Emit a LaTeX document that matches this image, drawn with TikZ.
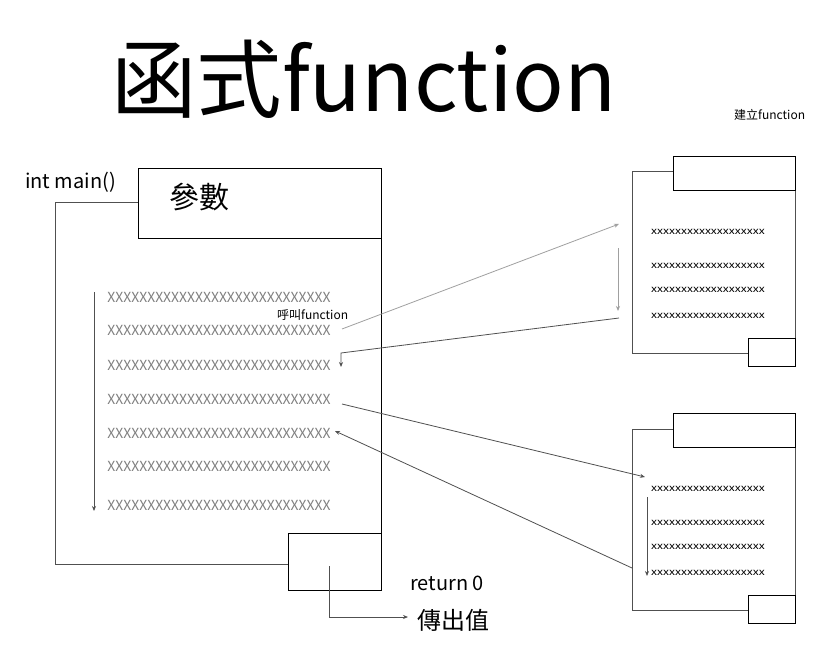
\documentclass[tikz,border=0pt]{standalone}
\usepackage{fontspec}
\setmainfont{Noto Sans CJK TC}
\usetikzlibrary{arrows.meta}
\definecolor{xgray}{HTML}{808080}
\definecolor{lgray}{HTML}{A0A0A0}
\definecolor{dgray}{HTML}{505050}
\tikzset{
  edge/.style={draw=black, line width=0.9pt},
  sedge/.style={draw=dgray, line width=1pt},
  bigx/.style={font=\fontsize{13.9}{13.9}\selectfont, text=xgray, inner sep=0pt},
  smallx/.style={font=\fontsize{9.6}{9.6}\selectfont, text=black, inner sep=0pt},
  lbl/.style={inner sep=0pt},
  tip/.style={-{Stealth[length=5pt,width=4pt]}},
  garrow/.style={tip, draw=lgray, line width=0.8pt},
  darrow/.style={tip, draw=dgray, line width=0.8pt},
}
\newcommand{\bigrow}{XXXXXXXXXXXXXXXXXXXXXXXXXXXX}
\newcommand{\smallrow}{\scalebox{1.25}[1]{xxxxxxxxxxxxxxxxxxx}}
\begin{document}
\begin{tikzpicture}[x=1pt,y=-1pt]
\useasboundingbox (0,0) rectangle (828,658);
\fill[white] (0,0) rectangle (828,658);

% title
\node[lbl, anchor=base west, font=\fontsize{85.5}{85.5}\selectfont] (title) at (111,112) {函式function};
\node[lbl, anchor=west, font=\fontsize{12}{12}\selectfont] (create) at (734,115) {建立function};

% main box
\draw[sedge] (138,203) -- (55,203) -- (55,564) -- (288,564);
\draw[edge] (381,238) -- (381,533);
\node[edge, minimum width=243pt, minimum height=70pt, inner sep=0pt] (param) at (259.5,203) {};
\node[lbl, anchor=west, font=\fontsize{30}{30}\selectfont] (paramtxt) at (169,197) {參數};
\node[lbl, anchor=west, font=\fontsize{20}{20}\selectfont] (main) at (25,182) {int main()};
\node[edge, minimum width=93pt, minimum height=57pt, inner sep=0pt] (ret) at (334.5,561.5) {};
\node[lbl, anchor=west, font=\fontsize{20}{20}\selectfont] (return) at (410,583) {return 0};
\node[lbl, anchor=west, font=\fontsize{24}{24}\selectfont] (out) at (417,620) {傳出值};
\coordinate (retin) at (329,566);
\coordinate (outin) at (408,617);
\draw[darrow] (retin) |- (outin);

% main rows
\foreach \n/\y in {1/297,2/330,3/365,4/399,5/433,6/466,7/505}{
  \node[bigx] (m\n) at (219,\y) {\bigrow};
}
\node[lbl, anchor=west, font=\fontsize{12}{12}\selectfont] (call) at (277,315) {呼叫function};
\coordinate (mtop) at (94,292);
\coordinate (mbot) at (94,511);
\draw[darrow] (mtop) -- (mbot);

% right box 1 and 2
\foreach \s/\p in {0/a,257/b}{
\begin{scope}[shift={(0,\s)}]
  \draw[sedge] (673,172) -- (632,172) -- (632,353) -- (748,353);
  \draw[sedge] (795,190) -- (795,338);
  \node[edge, minimum width=122pt, minimum height=34pt, inner sep=0pt] (\p tab) at (734,173) {};
  \node[edge, minimum width=47pt, minimum height=28pt, inner sep=0pt] (\p end) at (771.5,352) {};
  \node[smallx] (\p1) at (708,232) {\smallrow};
  \node[smallx] (\p2) at (708,266) {\smallrow};
  \node[smallx] (\p3) at (708,290) {\smallrow};
  \node[smallx] (\p4) at (708,316) {\smallrow};
\end{scope}
}

% call to function 1
\coordinate (c1s) at (342,329);
\coordinate (c1e) at (619,224);
\draw[garrow] (c1s) -- (c1e);
\coordinate (f1top) at (618,248);
\coordinate (f1bot) at (618,311);
\draw[garrow] (f1top) -- (f1bot);
\coordinate (r1s) at (619,318);
\coordinate (r1e) at (341,367);
\draw[darrow] (r1s) -- (341,353) -- (r1e);

% call to function 2
\coordinate (c2s) at (342,404);
\coordinate (c2e) at (645,477);
\draw[darrow] (c2s) -- (c2e);
\coordinate (f2top) at (647,497);
\coordinate (f2bot) at (647,576);
\draw[darrow] (f2top) -- (f2bot);
\coordinate (r2s) at (632,568);
\coordinate (r2e) at (335,431);
\draw[darrow] (r2s) -- (r2e);
\end{tikzpicture}
\end{document}
